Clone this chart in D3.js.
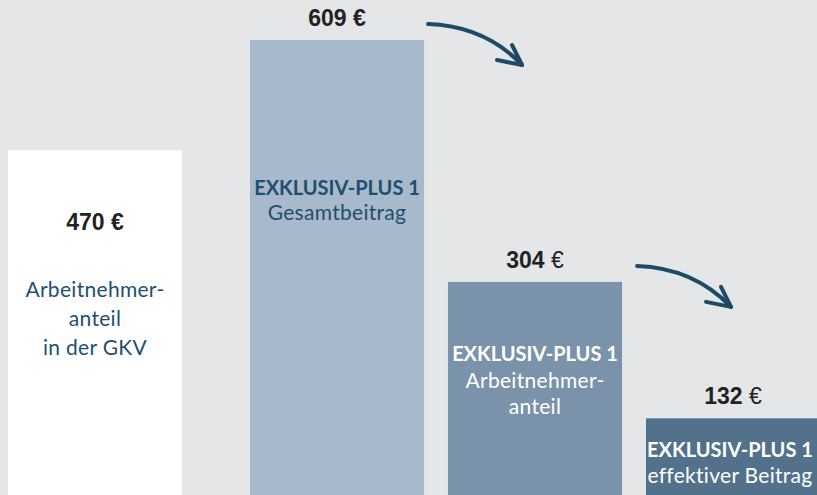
<!DOCTYPE html>
<html>
<head>
<meta charset="utf-8">
<script src="https://cdn.jsdelivr.net/npm/d3@7"></script>
<style>
  html, body { margin: 0; padding: 0; background: #e5e6e8; overflow: hidden; }
  svg { display: block; }
</style>
</head>
<body>
<div id="chart"></div>
<script>
// Beitragsvergleich GKV vs. EXKLUSIV-PLUS 1

var width = 817;
var height = 495;

// data
var keys = ["gkv", "gesamt", "arbeitnehmer", "effektiv"];
var values = [470, 609, 304, 132];
var titles = ["", "EXKLUSIV-PLUS 1", "EXKLUSIV-PLUS 1", "EXKLUSIV-PLUS 1"];
var subtitles = [
    ["Arbeitnehmer-", "anteil", "in der GKV"],
    ["Gesamtbeitrag"],
    ["Arbeitnehmer-", "anteil"],
    ["effektiver Beitrag"]
];

// look
var fills = ["#ffffff", "#a7b9ca", "#7a93ab", "#52728c"];
var textCol = ["#1f4f6f", "#1f4f6f", "#ffffff", "#ffffff"];
var darkBlue = "#1d4a66";
var innerFont = "Lato, 'Open Sans', sans-serif";
var numFont = "'Liberation Sans', Arial, sans-serif";

var svg = d3.select("#chart")
    .append("svg")
    .attr("width", width)
    .attr("height", height);

// x: the three EXKLUSIV-PLUS bars share a band scale, the GKV bar sits further left
var x = d3.scaleBand()
    .domain(keys.slice(1))
    .range([250, 820])
    .paddingInner(0.121)
    .paddingOuter(0);
var bw = x.bandwidth();
function xPos(i) {
    if (i === 0) return x(keys[1]) - 68 - bw;
    return x(keys[i]);
}

var y = d3.scaleLinear()
    .domain([0, 609])
    .range([523, 40]);

var rows = values.map(function(v, i) {
    return { key: keys[i], value: v, i: i };
});

// bars
svg.selectAll(".bar")
    .data(rows)
    .enter()
    .append("rect")
    .attr("class", "bar")
    .attr("x", function(d) { return xPos(d.i); })
    .attr("y", function(d) { return y(d.value); })
    .attr("width", bw)
    .attr("height", function(d) { return y(0) - y(d.value); })
    .attr("fill", function(d) { return fills[d.i]; });

// value labels (first one sits inside the white bar)
var valueDy = [80, -14, -14, -14];
var boldEuro = [true, true, false, false];
var vl = svg.selectAll(".val")
    .data(rows)
    .enter()
    .append("text")
    .attr("class", "val")
    .attr("x", function(d) { return xPos(d.i) + bw / 2; })
    .attr("y", function(d) { return y(d.value) + valueDy[d.i]; })
    .attr("text-anchor", "middle")
    .attr("font-family", numFont)
    .attr("font-size", 23)
    .attr("fill", "#222222");
vl.append("tspan")
    .attr("font-weight", "bold")
    .text(function(d) { return d.value + " "; });
vl.append("tspan")
    .attr("font-weight", function(d) { return boldEuro[d.i] ? "bold" : "normal"; })
    .text("€");

// inner labels
var titleDy = [0, 155, 79, 39];
var subDy = [147, 180, 106, 65];
var lineGap = [29, 26, 26, 26];
var labelShift = [0, 0, 0, -3];

rows.forEach(function(d) {
    var cx = xPos(d.i) + bw / 2 + labelShift[d.i];
    var top = y(d.value);
    if (titles[d.i]) {
        svg.append("text")
            .attr("x", cx)
            .attr("y", top + titleDy[d.i])
            .attr("text-anchor", "middle")
            .attr("font-family", innerFont)
            .attr("font-weight", "bold")
            .attr("font-size", 20)
            .attr("fill", textCol[d.i])
            .text(titles[d.i]);
    }
    subtitles[d.i].forEach(function(line, k) {
        svg.append("text")
            .attr("x", cx)
            .attr("y", top + subDy[d.i] + k * lineGap[d.i])
            .attr("text-anchor", "middle")
            .attr("font-family", innerFont)
            .attr("font-size", 21)
            .attr("letter-spacing", 0.3)
            .attr("fill", textCol[d.i])
            .text(line);
    });
});

// arrows from bar to bar
var arrowFrom = [1, 2];
var arrowGap = [4, 15];
arrowFrom.forEach(function(src, k) {
    var sx = xPos(src) + bw + arrowGap[k];
    var sy = y(values[src]) - 16;
    var tx = sx + 94, ty = sy + 41;
    var g = svg.append("g")
        .attr("fill", "none")
        .attr("stroke", darkBlue)
        .attr("stroke-width", 4)
        .attr("stroke-linecap", "round")
        .attr("stroke-linejoin", "round");
    g.append("path")
        .attr("d", "M" + sx + "," + sy + " Q" + (sx + 57) + "," + (sy + 2) + " " + tx + "," + ty);
    g.append("path")
        .attr("d", "M" + (tx - 25) + "," + (ty - 5) + " L" + tx + "," + ty + " L" + (tx - 10) + "," + (ty - 20));
});
</script>
</body>
</html>
